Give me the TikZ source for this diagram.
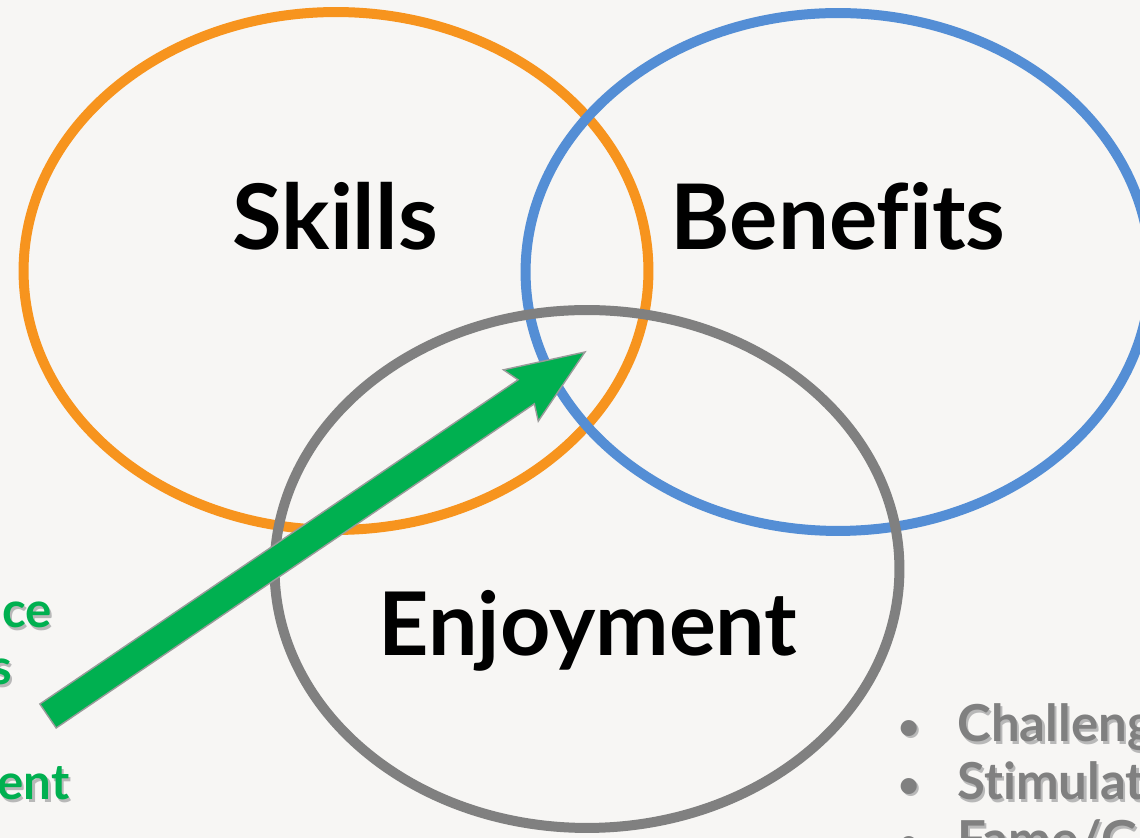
\documentclass[tikz,border=0pt]{standalone}
\usepackage{fontspec}
\setmainfont{Lato}[Ligatures=NoCommon]
\usetikzlibrary{calc,shapes.geometric}

\definecolor{paper}{RGB}{247,246,244}
\definecolor{skillorange}{RGB}{247,148,30}
\definecolor{benefitblue}{RGB}{84,142,213}
\definecolor{ringgray}{RGB}{128,128,128}
\definecolor{arrowgreen}{RGB}{0,176,80}

% text with a soft drop shadow behind it
\newcommand{\shadowed}[1]{\makebox[0pt][l]{\kern1.3pt\raisebox{-1.3pt}{\color{black!28}#1}}#1}
\newcommand{\dotmark}{\makebox[0.62cm][l]{\raisebox{1.5pt}{\fontsize{21}{21}\selectfont\shadowed{•}}}}

\begin{document}
\begin{tikzpicture}[x=0.02cm, y=0.02cm,
    ring/.style={draw, ellipse, line width=0.2cm, minimum width=12.5cm, minimum height=10.36cm, inner sep=0pt},
    title/.style={font=\fontsize{51.5}{60}\selectfont\bfseries, anchor=base},
    side/.style={font=\fontsize{28}{32}\selectfont\bfseries, anchor=base east, inner sep=0pt, text=arrowgreen},
    point/.style={font=\fontsize{29}{32}\selectfont\bfseries, anchor=base west, inner sep=0pt, text=ringgray}]
    % Page
    \fill[paper] (0,0) rectangle (1140,838);
    \clip (0,0) rectangle (1140,838);

    % Rings
    \node[ring, skillorange] (skills) at (336,567) {};
    \node[ring, benefitblue] (benefits) at (838,566) {};
    \node[ring, ringgray] (enjoyment) at (587,269) {};

    % Titles
    \node[title] (skillsText) at (335,588) {Skills};
    \node[title] (benefitsText) at (838,588) {Benefits};
    \node[title] (enjoymentText) at (588,182) {\fontsize{50}{60}\selectfont Enjoyment};

    % Arrow
    \coordinate (tail) at (48,122);
    \coordinate (tip) at (585,486);
    \coordinate (head) at ($(tip)!1.42cm!(tail)$);
    \coordinate (barb) at ($(tip)!1.55cm!(tail)$);
    \draw[ringgray!80, line width=0.8pt, fill=arrowgreen]
        ($(tail)!0.29cm!90:(tip)$) -- ($(head)!0.29cm!-90:(tail)$)
        -- ($(barb)!0.62cm!-90:(tail)$) -- (tip)
        -- ($(barb)!0.62cm!90:(tail)$) -- ($(head)!0.29cm!90:(tail)$)
        -- ($(tail)!0.29cm!-90:(tip)$) -- cycle;

    % Left list
    \node[side] (sideA) at (52,210) {\shadowed{ce}};
    \node[side] (sideB) at (12,153) {\shadowed{s}};
    \node[side] (sideC) at (70,38) {\shadowed{ent}};

    % Right list
    \node[point] (pointA) at (898,96) {\dotmark\hspace{0.56cm}\shadowed{Challeng}};
    \node[point] (pointB) at (898,38) {\dotmark\hspace{0.56cm}\shadowed{Stimulat}};
    \node[point] (pointC) at (898,-20) {\dotmark\hspace{0.56cm}\shadowed{Fame/Gl}};
\end{tikzpicture}
\end{document}
